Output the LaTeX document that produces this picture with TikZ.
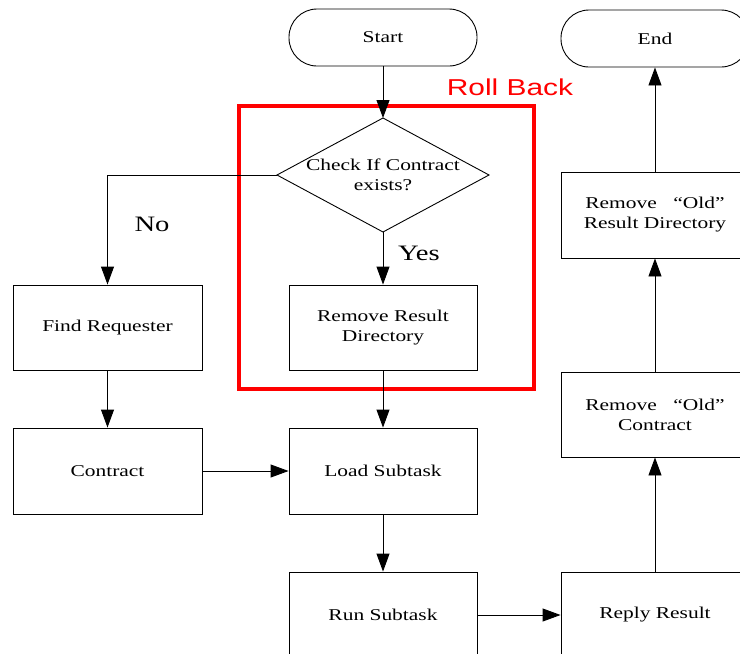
\documentclass[tikz,border=0pt]{standalone}
\usepackage{fontspec}
\setmainfont{Liberation Serif}[FakeStretch=1.3]
\newfontfamily\rollfont{Liberation Sans}[FakeStretch=1.3]
\usetikzlibrary{arrows.meta}

\tikzset{
  box/.style={draw, line width=0.9pt, minimum width=188pt, minimum height=86pt,
    inner sep=0pt, align=center, font=\fontsize{16.5}{20}\selectfont},
  term/.style={box, rounded corners=28pt, minimum height=57pt},
  txt/.style={inner sep=0pt, align=center, font=\fontsize{16.5}{20}\selectfont},
  branch/.style={inner sep=0pt, font=\fontsize{22}{24}\selectfont},
  flow/.style={-{Triangle[length=18pt,width=13pt]}, line width=0.9pt},
  plain/.style={line width=0.9pt},
  rollframe/.style={draw=red, line width=3.5pt, minimum width=295pt, minimum height=283pt, inner sep=0pt}
}

\begin{document}
\begin{tikzpicture}[x=1pt, y=-1pt]
  \path[use as bounding box, clip] (0,0) rectangle (740,654);
  \fill[white] (0,0) rectangle (740,654);

  % terminals
  \node[term] (start) at (383,37.5) {Start};
  \node[term] (stop)  at (655,38.5) {End};

  % roll-back region
  \node[rollframe] (rollbox) at (386.5,247.5) {};
  \node[inner sep=0pt, text=red, font=\rollfont\fontsize{23}{26}\selectfont] (rolllbl) at (510,87) {Roll Back};

  % decision
  \coordinate (chkN) at (383,118);
  \coordinate (chkE) at (489,175);
  \coordinate (chkS) at (383,232);
  \coordinate (chkW) at (277,175);
  \draw[plain, line join=miter] (chkN) -- (chkE) -- (chkS) -- (chkW) -- cycle;
  \node[txt] (check) at (383,175) {Check If Contract\\exists?};

  % process boxes
  \node[box, minimum height=85pt] (rrd)   at (383,327.5) {Remove Result\\Directory};
  \node[box, minimum width=189pt, minimum height=85pt] (findr) at (107.5,327.5) {Find Requester};
  \node[box, minimum width=189pt] (contract) at (107.5,471) {Contract};
  \node[box] (load) at (383,471) {Load Subtask};
  \node[box] (run) at (383,615) {Run Subtask};
  \node[box] (reply) at (655,615) {Reply Result};
  \node[box, minimum height=85pt] (roc) at (655,414.5) {Remove\quad ``Old''\\Contract};
  \node[box] (rord) at (655,215) {Remove\quad ``Old''\\Result Directory};

  % connectors
  \draw[flow] (start.south) -- (chkN);
  \draw[flow] (chkW) -| (findr.north);
  \draw[flow] (chkS) -- (rrd.north);
  \draw[flow] (findr.south) -- (contract.north);
  \draw[flow] (contract.east) -- (load.west);
  \draw[flow] (rrd.south) -- (load.north);
  \draw[flow] (load.south) -- (run.north);
  \draw[flow] (run.east) -- (reply.west);
  \draw[flow] (reply.north) -- (roc.south);
  \draw[flow] (roc.north) -- (rord.south);
  \draw[flow] (rord.north) -- (stop.south);

  % branch labels
  \node[branch] (nolbl) at (152,224) {No};
  \node[branch] (yeslbl) at (419,253) {Yes};
\end{tikzpicture}
\end{document}
